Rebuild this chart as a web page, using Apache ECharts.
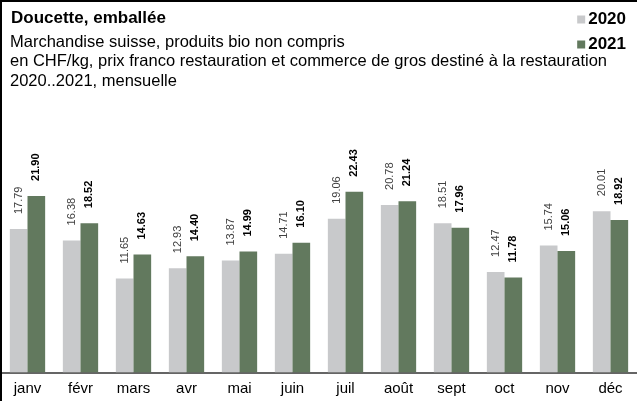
<!DOCTYPE html>
<html>
<head>
<meta charset="utf-8">
<script src="https://cdn.jsdelivr.net/npm/echarts@6/dist/echarts.min.js"></script>
<style>
html,body{margin:0;padding:0;background:#fff;}
#c{width:637px;height:401px;}
</style>
</head>
<body>
<div id="c"></div>
<script>
const categories = ['janv','févr','mars','avr','mai','juin','juil','août','sept','oct','nov','déc'];
const values2020 = [17.79,16.38,11.65,12.93,13.87,14.71,19.06,20.78,18.51,12.47,15.74,20.01];
const values2021 = [21.90,18.52,14.63,14.40,14.99,16.10,22.43,21.24,17.96,11.78,15.06,18.92];
const seriesNames = ['2020','2021'];
const titleText = 'Doucette, emballée';
const subtitleLines = [
  'Marchandise suisse, produits bio non compris',
  'en CHF/kg, prix franco restauration et commerce de gros destiné à la restauration',
  '2020..2021, mensuelle'
];

const FONT = '"Liberation Sans", Arial, sans-serif';
const chart = echarts.init(document.getElementById('c'), null, {renderer:'canvas'});
const fmt = p => p.value.toFixed(2);

chart.setOption({
  animation:false,
  backgroundColor:'#fff',
  textStyle:{fontFamily:FONT},
  title:{
    text:titleText,
    left:11, top:10, padding:0,
    textStyle:{fontFamily:FONT,fontSize:17,fontWeight:'bold',color:'#000',lineHeight:17}
  },
  graphic: [
    {type:'rect', shape:{x:1,y:1,width:660,height:420}, style:{fill:'none',stroke:'#000',lineWidth:2}, z:100},
  ].concat(subtitleLines.map((t,i)=>({
    type:'text', left:10, top:33.5 + i*19.5,
    style:{text:t, font:'16.5px ' + FONT, fill:'#000'}
  }))),
  legend:{
    data:seriesNames,
    orient:'vertical',
    right:11, top:11, padding:0,
    itemWidth:8, itemHeight:8, itemGap:8,
    icon:'rect',
    textStyle:{fontFamily:FONT,fontSize:17,fontWeight:'bold',color:'#000',lineHeight:17,padding:[0,0,0,-2]}
  },
  grid:{left:1, width:641, top:171, height:201.3, containLabel:false},
  xAxis:{
    type:'category', data:categories,
    axisLine:{lineStyle:{color:'#333',width:1.5}},
    axisTick:{show:false},
    axisLabel:{fontFamily:FONT,fontSize:15,color:'#000',margin:9}
  },
  yAxis:{
    type:'value', min:0, max:25,
    show:false, splitLine:{show:false}
  },
  series:[
    {
      name:seriesNames[0], type:'bar', data:values2020,
      itemStyle:{color:'#C8C9CB'},
      barWidth:'33.3%', barGap:'0%', barCategoryGap:'33%',
      label:{show:true, position:'top', distance:15, rotate:90, align:'left', verticalAlign:'middle',
        formatter:fmt, fontFamily:FONT, fontSize:11, color:'#404040'}
    },
    {
      name:seriesNames[1], type:'bar', data:values2021,
      itemStyle:{color:'#62795E'},
      barWidth:'33.3%', barGap:'0%',
      label:{show:true, position:'top', distance:15, rotate:90, align:'left', verticalAlign:'middle',
        formatter:fmt, fontFamily:FONT, fontSize:11, fontWeight:'bold', color:'#000'}
    }
  ]
});
</script>
</body>
</html>
